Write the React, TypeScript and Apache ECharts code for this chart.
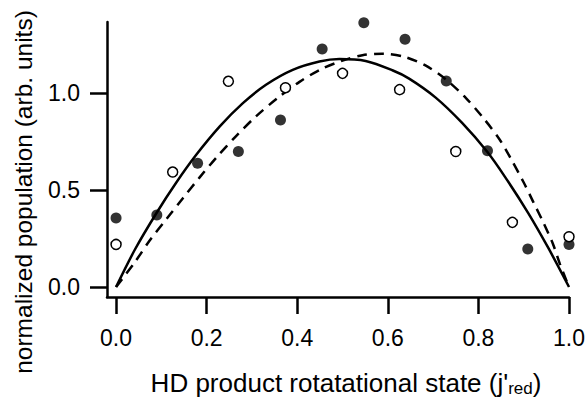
import React, { useEffect, useRef } from "react";
import * as echarts from "echarts";

// Filled circles
const filledX = [0.0, 0.09, 0.18, 0.27, 0.363, 0.455, 0.547, 0.638, 0.729, 0.82, 0.909, 1.0];
const filledY = [0.357, 0.372, 0.64, 0.70, 0.863, 1.23, 1.366, 1.28, 1.065, 0.704, 0.196, 0.22];

// Open circles
const openX = [0.0, 0.125, 0.248, 0.374, 0.5, 0.626, 0.75, 0.875, 1.0];
const openY = [0.22, 0.594, 1.063, 1.03, 1.104, 1.02, 0.70, 0.334, 0.26];

// Solid fit curve
const solidX = [0, 0.042, 0.09, 0.133, 0.177, 0.229, 0.28, 0.331, 0.39, 0.449, 0.493, 0.551, 0.61, 0.647, 0.705, 0.764, 0.819, 0.859, 0.91, 0.954, 1.0];
const solidY = [0, 0.195, 0.385, 0.54, 0.683, 0.83, 0.95, 1.045, 1.122, 1.165, 1.178, 1.168, 1.12, 1.077, 0.98, 0.848, 0.7, 0.568, 0.382, 0.203, 0];

// Dashed fit curve
const dashX = [0, 0.042, 0.075, 0.111, 0.148, 0.185, 0.223, 0.265, 0.309, 0.357, 0.405, 0.452, 0.5, 0.544, 0.588, 0.636, 0.683, 0.727, 0.773, 0.812, 0.846, 0.87, 0.9, 0.921, 0.944, 0.965, 0.98, 1.0];
const dashY = [0, 0.13, 0.243, 0.35, 0.46, 0.568, 0.673, 0.78, 0.882, 0.977, 1.06, 1.125, 1.17, 1.198, 1.206, 1.19, 1.145, 1.075, 0.975, 0.87, 0.765, 0.67, 0.54, 0.44, 0.33, 0.22, 0.118, 0];

const xTicks = [0, 0.2, 0.4, 0.6, 0.8, 1.0];
const yTicks = [0, 0.5, 1.0];

const xTitle = "HD product rotatational state (j'";
const xTitleSub = "red";
const yTitle = "normalized population (arb. units)";

const FONT = "Liberation Sans";

export default function App() {
  const ref = useRef<HTMLDivElement>(null);
  useEffect(() => {
    const chart = echarts.init(ref.current!, null, { renderer: "svg" });
    const zip = (xs: number[], ys: number[]) => xs.map((x, i) => [x, ys[i]]);
    chart.setOption({
      animation: false,
      backgroundColor: "#fff",
      grid: { left: 107, right: 17, top: 22, bottom: 101, containLabel: false },
      xAxis: {
        type: "value",
        min: -0.02,
        max: 1.0,
        splitLine: { show: false },
        axisLine: { show: true, onZero: false, lineStyle: { color: "#000", width: 2.5 } },
        axisTick: { show: true, customValues: xTicks, length: 17, lineStyle: { color: "#000", width: 2.5 } },
        axisLabel: {
          customValues: xTicks,
          formatter: (v: number) => v.toFixed(1),
          color: "#000",
          fontFamily: FONT,
          fontSize: 23,
          margin: 29.5,
        },
      },
      yAxis: {
        type: "value",
        min: -0.0517,
        max: 1.3695,
        splitLine: { show: false },
        axisLine: { show: true, onZero: false, lineStyle: { color: "#000", width: 2.5 } },
        axisTick: { show: true, customValues: yTicks, length: 17, lineStyle: { color: "#000", width: 2.5 } },
        axisLabel: {
          customValues: yTicks,
          formatter: (v: number) => v.toFixed(1),
          color: "#000",
          fontFamily: FONT,
          fontSize: 23,
          margin: 27,
        },
      },
      graphic: [
        {
          type: "text",
          x: 346,
          y: 383,
          style: {
            text: xTitle + "{sub|" + xTitleSub + "})",
            fill: "#000",
            fontFamily: FONT,
            fontSize: 26,
            align: "center",
            verticalAlign: "middle",
            rich: {
              sub: { fontSize: 17, fontFamily: FONT, fill: "#000", padding: [11, 0, 0, 0] },
            },
          },
        },
        {
          type: "text",
          x: 23,
          y: 192,
          rotation: Math.PI / 2,
          style: {
            text: yTitle,
            fill: "#000",
            fontFamily: FONT,
            fontSize: 24.5,
            align: "center",
            verticalAlign: "middle",
          },
        },
      ],
      series: [
        {
          type: "line",
          data: zip(solidX, solidY),
          smooth: 0.3,
          showSymbol: false,
          lineStyle: { color: "#000", width: 2.5 },
          z: 2,
        },
        {
          type: "line",
          data: zip(dashX, dashY),
          smooth: 0.3,
          showSymbol: false,
          lineStyle: { color: "#000", width: 2.5, type: [10, 7] },
          z: 2,
        },
        {
          type: "scatter",
          data: zip(filledX, filledY),
          symbol: "circle",
          symbolSize: 11,
          itemStyle: { color: "#000" },
          z: 3,
        },
        {
          type: "scatter",
          data: zip(openX, openY),
          symbol: "circle",
          symbolSize: 10,
          itemStyle: { color: "#fff", borderColor: "#000", borderWidth: 1.5, opacity: 1 },
          z: 3,
        },
      ],
    });
    return () => chart.dispose();
  }, []);
  return (
    <div
      ref={ref}
      style={{ position: "absolute", left: 0, top: 0, width: 588, height: 398 }}
    />
  );
}
